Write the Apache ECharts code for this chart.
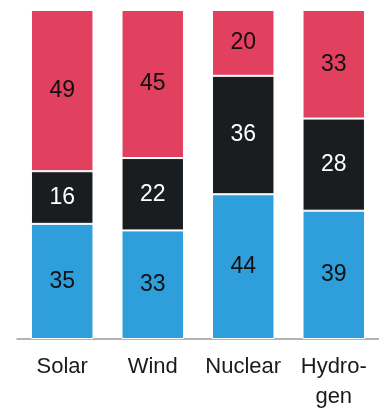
<!DOCTYPE html>
<html>
<head>
<meta charset="utf-8">
<script src="https://cdn.jsdelivr.net/npm/echarts@6/dist/echarts.min.js"></script>
<style>
html,body{margin:0;padding:0;background:#fff;}
#c{width:379px;height:412px;}
</style>
</head>
<body>
<div id="c"></div>
<script>
const categories = ['Solar', 'Wind', 'Nuclear', 'Hydro-\ngen'];
const blueValues = [35, 33, 44, 39];
const blackValues = [16, 22, 36, 28];
const redValues = [49, 45, 20, 33];

const FONT = 'Liberation Sans';
function seg(name, data, color, textColor) {
  return {
    name: name,
    type: 'bar',
    stack: 'total',
    data: data,
    barWidth: '69%',
    itemStyle: { color: color, borderColor: '#fff', borderWidth: 1 },
    label: {
      show: true,
      position: 'inside',
      color: textColor,
      fontFamily: FONT,
      fontSize: 23,
      formatter: '{c}'
    }
  };
}

const chart = echarts.init(document.getElementById('c'), null, { renderer: 'canvas' });
chart.setOption({
  animation: false,
  grid: { left: 17, right: 0, top: 10, bottom: 72 },
  xAxis: {
    type: 'category',
    data: categories,
    axisLine: { lineStyle: { color: '#9a9a9a', width: 1.5 } },
    axisTick: { show: false },
    axisLabel: { interval: 0, color: '#1a1a1a', fontFamily: FONT, fontSize: 22, lineHeight: 30, margin: 13 }
  },
  yAxis: { type: 'value', min: 0, max: 100, show: false },
  series: [
    seg('blue', blueValues, '#2f9fdb', '#111'),
    seg('black', blackValues, '#1a1d20', '#fff'),
    seg('red', redValues, '#e1405f', '#111')
  ]
});
</script>
</body>
</html>
